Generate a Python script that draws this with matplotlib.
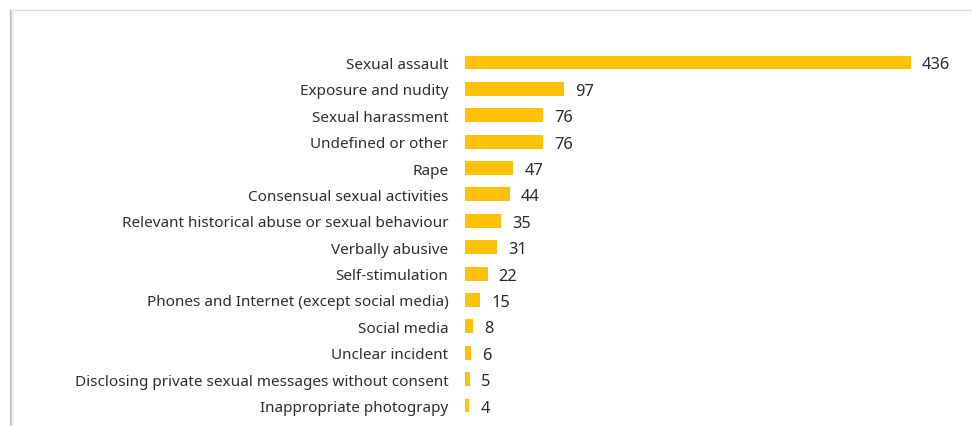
import matplotlib
matplotlib.use("Agg")
import matplotlib.pyplot as plt
from matplotlib.lines import Line2D

categories = [
    "Sexual assault",
    "Exposure and nudity",
    "Sexual harassment",
    "Undefined or other",
    "Rape",
    "Consensual sexual activities",
    "Relevant historical abuse or sexual behaviour",
    "Verbally abusive",
    "Self-stimulation",
    "Phones and Internet (except social media)",
    "Social media",
    "Unclear incident",
    "Disclosing private sexual messages without consent",
    "Inappropriate photograpy",
]
values = [436, 97, 76, 76, 47, 44, 35, 31, 22, 15, 8, 6, 5, 4]

plt.rcParams['font.family'] = ['Noto Sans', 'DejaVu Sans']
W, H = 972, 427
fig = plt.figure(figsize=(W / 100, H / 100), dpi=100)
fig.patch.set_facecolor('white')

ax_left, ax_right = 465, 960
ax_top, ax_bot = 50.3, 419.7
ax = fig.add_axes([ax_left / W, 1 - ax_bot / H, (ax_right - ax_left) / W, (ax_bot - ax_top) / H])

ypos = list(range(len(categories)))
ax.barh(ypos, values, height=0.53, color='#FFC107')
ax.set_ylim(len(categories) - 0.5, -0.5)
ax.set_xlim(0, (ax_right - ax_left) / (446 / 436))
ax.set_yticks(ypos)
ax.set_yticklabels(categories, fontsize=11, color='#2e2e2e')
for t in ax.get_yticklabels():
    t.set_verticalalignment('center_baseline')
ax.tick_params(axis='y', length=0, pad=12)
ax.set_xticks([])
for s in ax.spines.values():
    s.set_visible(False)

for y, v in zip(ypos, values):
    ax.annotate(str(v), xy=(v, y), xytext=(8, 0), textcoords='offset points',
                va='center_baseline', ha='left', fontsize=11.8, color='#2a2a2a')

# frame: top thin line and left shadow edge
fig.add_artist(Line2D([10 / W, 1], [1 - 11 / H, 1 - 11 / H], transform=fig.transFigure,
                      color='#dddddd', lw=0.8))
for i, c in enumerate(['#bbbbbb', '#d4d4d4', '#e8e8e8', '#f4f4f4']):
    x = (10 + i) / W
    fig.add_artist(Line2D([x, x], [0, 1 - 11 / H], transform=fig.transFigure, color=c, lw=0.9))

fig.savefig('out.png', dpi=100)
